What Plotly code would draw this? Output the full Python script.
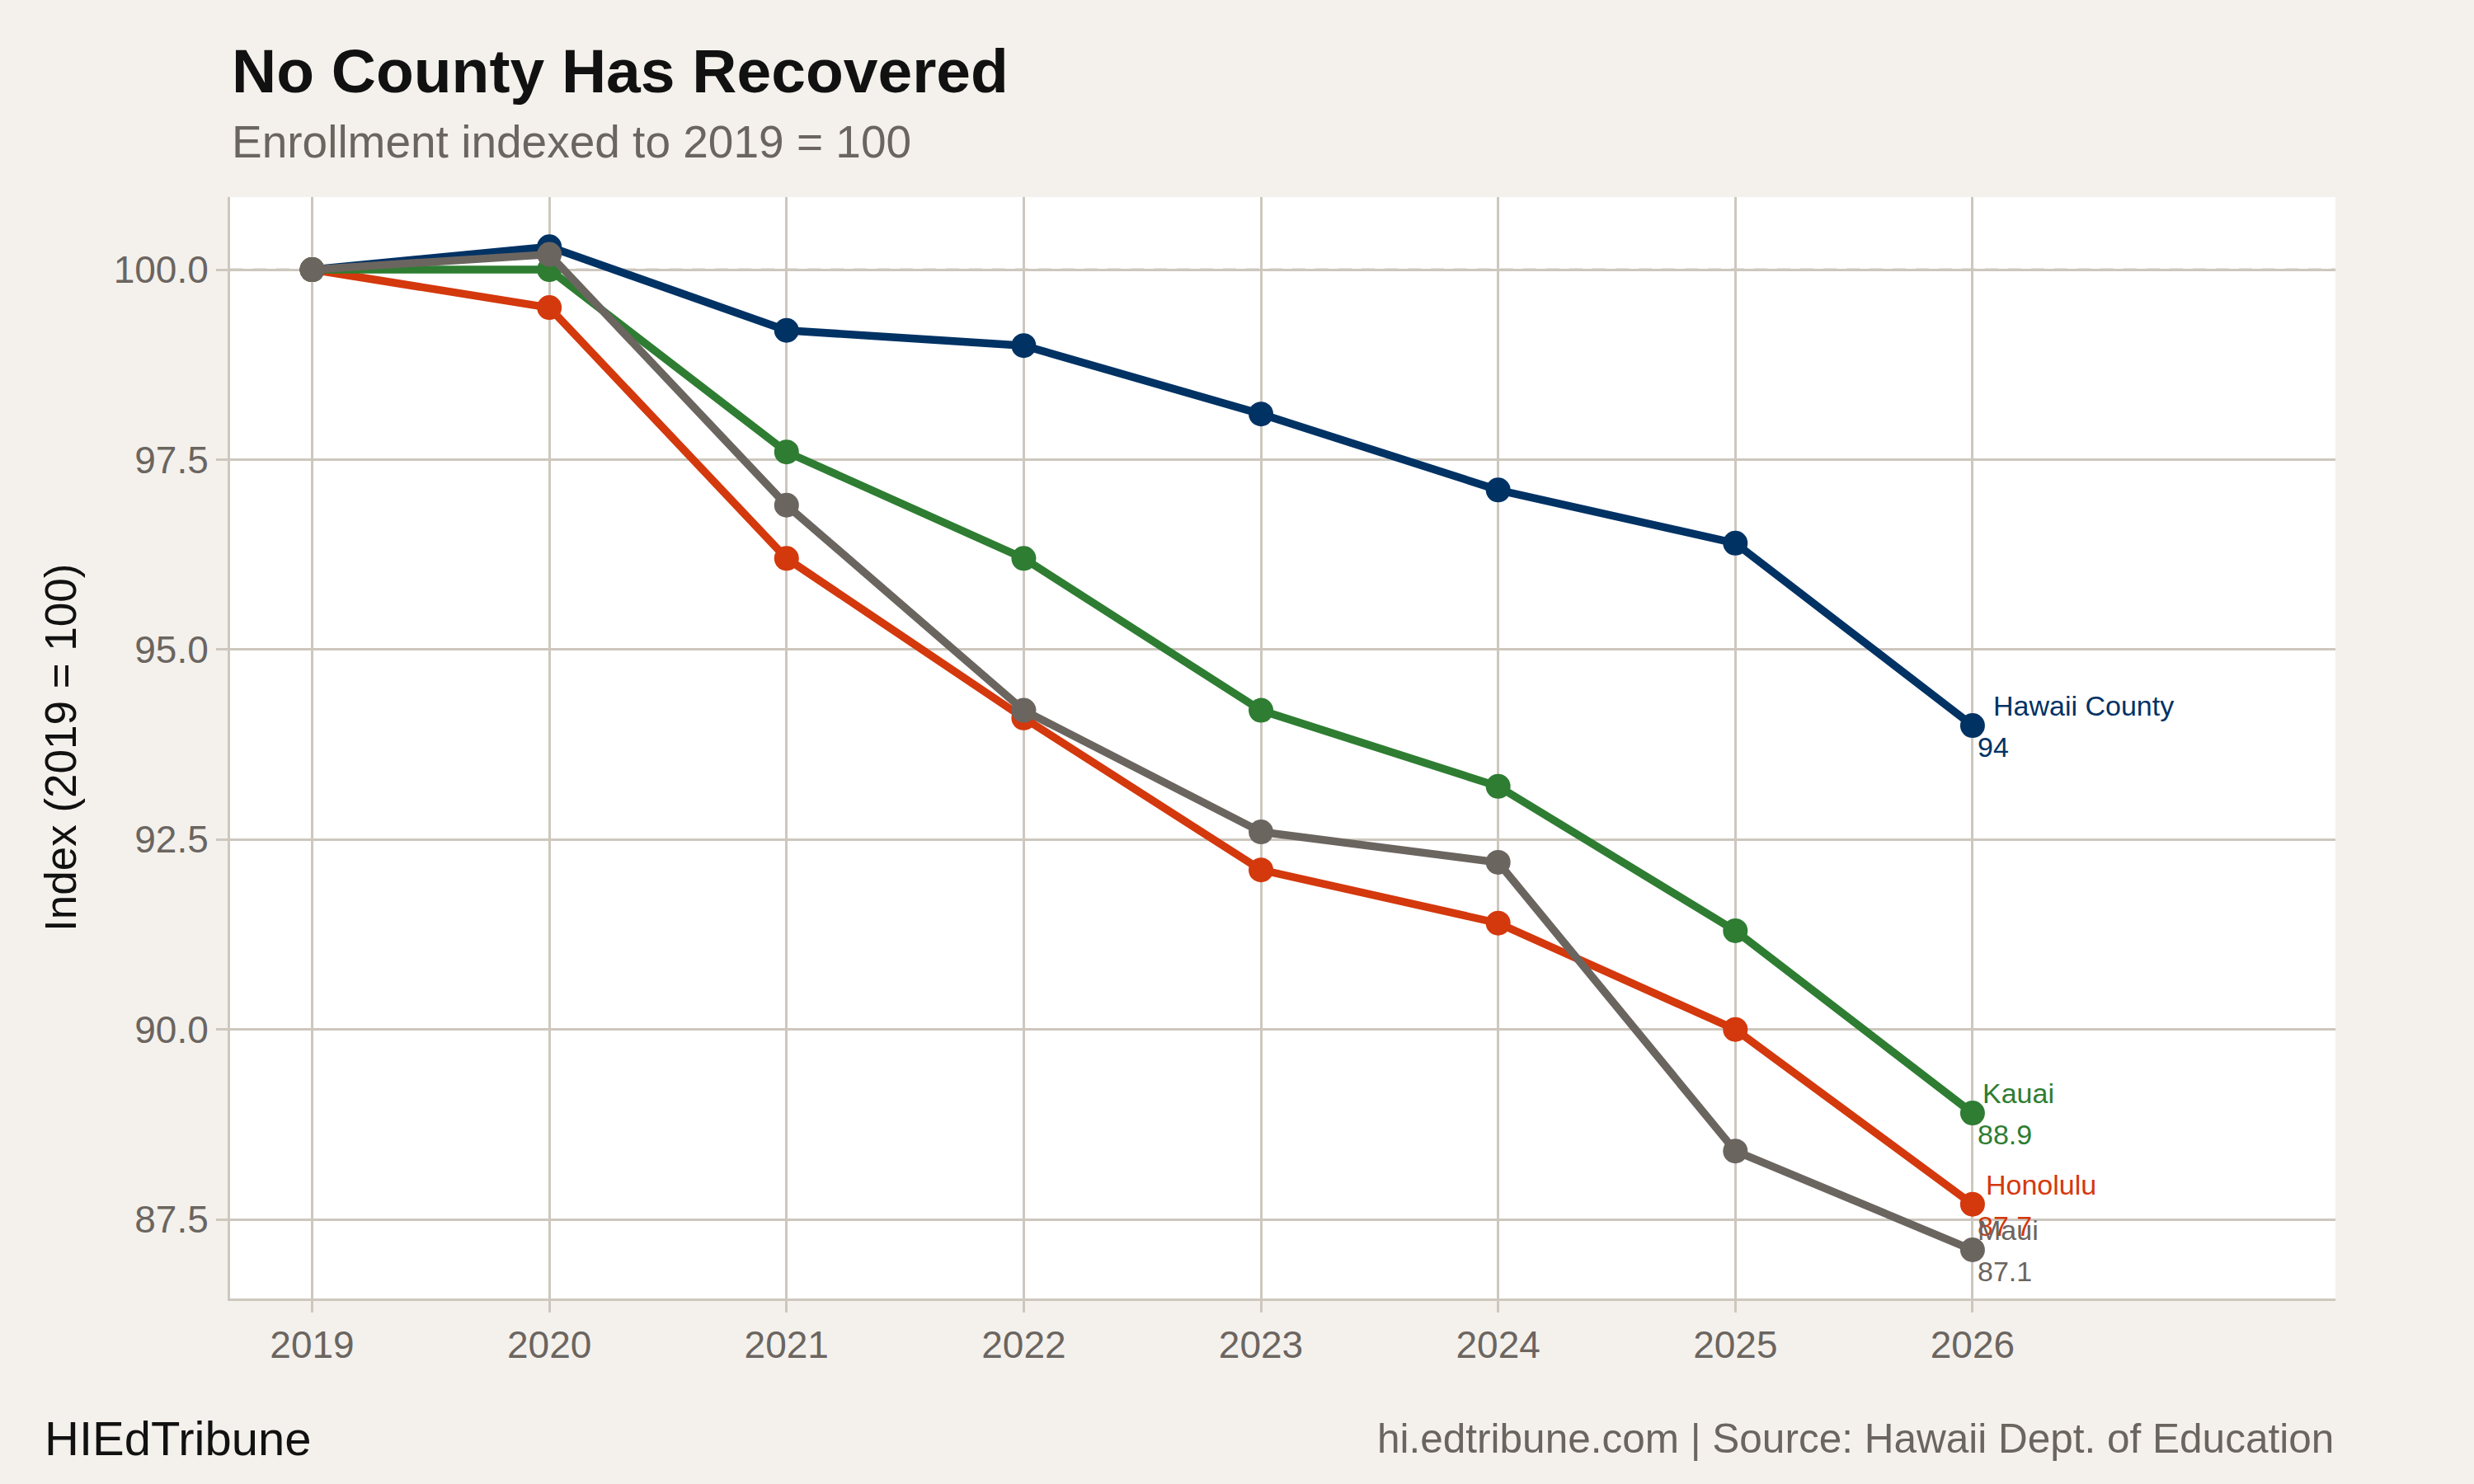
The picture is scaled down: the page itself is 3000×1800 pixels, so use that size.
import plotly.graph_objects as go

years = [2019, 2020, 2021, 2022, 2023, 2024, 2025, 2026]

counties = ["Hawaii County", "Honolulu", "Kauai", "Maui"]
hawaii_county = [100.0, 100.3, 99.2, 99.0, 98.1, 97.1, 96.4, 94.0]
honolulu = [100.0, 99.5, 96.2, 94.1, 92.1, 91.4, 90.0, 87.7]
kauai = [100.0, 100.0, 97.6, 96.2, 94.2, 93.2, 91.3, 88.9]
maui = [100.0, 100.2, 96.9, 94.2, 92.6, 92.2, 88.4, 87.1]

y_ticks = [87.5, 90.0, 92.5, 95.0, 97.5, 100.0]
baseline = 100

series = dict(zip(counties, [hawaii_county, honolulu, kauai, maui]))

colors = {
    "Hawaii County": "#003264",
    "Honolulu": "#D4380D",
    "Kauai": "#2E7D32",
    "Maui": "#6B6560",
}
# pixel nudges for the end labels (name above, value below)
name_shift = {"Hawaii County": 23, "Honolulu": 14, "Kauai": 10, "Maui": 4}

FONT = "Liberation Sans, Arial, sans-serif"
BG = "#F4F1EC"
GRID = "#CDC7BE"
MUTED = "#6B6560"

fig = go.Figure()

for name in counties:
    fig.add_trace(
        go.Scatter(
            x=years,
            y=series[name],
            mode="lines+markers",
            name=name,
            line=dict(color=colors[name], width=9.5),
            marker=dict(color=colors[name], size=30),
            showlegend=False,
        )
    )

annotations = []
for name in counties:
    last = series[name][-1]
    annotations.append(
        dict(
            x=years[-1], y=last, xref="x", yref="y", text=name,
            showarrow=False, xanchor="left", yanchor="middle",
            xshift=name_shift[name], yshift=24,
            font=dict(family=FONT, size=34, color=colors[name]),
        )
    )
    annotations.append(
        dict(
            x=years[-1], y=last, xref="x", yref="y", text=f"{last:g}",
            showarrow=False, xanchor="left", yanchor="middle",
            xshift=4, yshift=-26,
            font=dict(family=FONT, size=34, color=colors[name]),
        )
    )

annotations += [
    dict(
        x=0, y=1.1145, xref="paper", yref="paper", text="<b>No County Has Recovered</b>",
        showarrow=False, xanchor="left", yanchor="middle",
        font=dict(family=FONT, size=75, color="#111111"),
    ),
    dict(
        x=0, y=1.050, xref="paper", yref="paper", text="Enrollment indexed to 2019 = 100",
        showarrow=False, xanchor="left", yanchor="middle",
        font=dict(family=FONT, size=55, color=MUTED),
    ),
    dict(
        x=-0.0807, y=0.5, xref="paper", yref="paper", text="Index (2019 = 100)",
        showarrow=False, textangle=-90, xanchor="center", yanchor="middle",
        font=dict(family=FONT, size=53, color="#111111"),
    ),
    dict(
        x=-0.0889, y=-0.127, xref="paper", yref="paper", text="HIEdTribune",
        showarrow=False, xanchor="left", yanchor="middle",
        font=dict(family=FONT, size=58, color="#111111"),
    ),
    dict(
        x=1, y=-0.127, xref="paper", yref="paper",
        text="hi.edtribune.com | Source: Hawaii Dept. of Education",
        showarrow=False, xanchor="right", yanchor="middle",
        font=dict(family=FONT, size=49.5, color=MUTED),
    ),
]

fig.add_shape(
    type="line", xref="paper", yref="y", x0=0, x1=1, y0=baseline, y1=baseline,
    line=dict(color=GRID, width=3, dash="16px,12px"), layer="below",
)

fig.update_layout(
    width=3000,
    height=1800,
    autosize=False,
    margin=dict(l=279, r=168, t=239, b=225),
    paper_bgcolor=BG,
    plot_bgcolor="white",
    font=dict(family=FONT),
    annotations=annotations,
)

fig.update_xaxes(
    range=[2018.654, 2027.53],
    tickvals=years,
    ticktext=[str(y) for y in years],
    showgrid=True, gridcolor=GRID, gridwidth=3,
    showline=True, linecolor=GRID, linewidth=3,
    ticks="outside", ticklen=14, tickwidth=3, tickcolor=GRID,
    tickfont=dict(family=FONT, size=46, color=MUTED),
    zeroline=False,
)
fig.update_yaxes(
    range=[86.46, 100.955],
    tickvals=y_ticks,
    ticktext=[f"{v:.1f}" for v in y_ticks],
    showgrid=True, gridcolor=GRID, gridwidth=3,
    showline=True, linecolor=GRID, linewidth=3,
    ticks="outside", ticklen=14, tickwidth=3, tickcolor=GRID,
    tickfont=dict(family=FONT, size=46, color=MUTED),
    zeroline=False,
)

fig.write_html(
    "out.html",
    config={"displayModeBar": False},
    post_script="document.body.style.margin='0';document.body.style.background='%s';" % BG,
)
